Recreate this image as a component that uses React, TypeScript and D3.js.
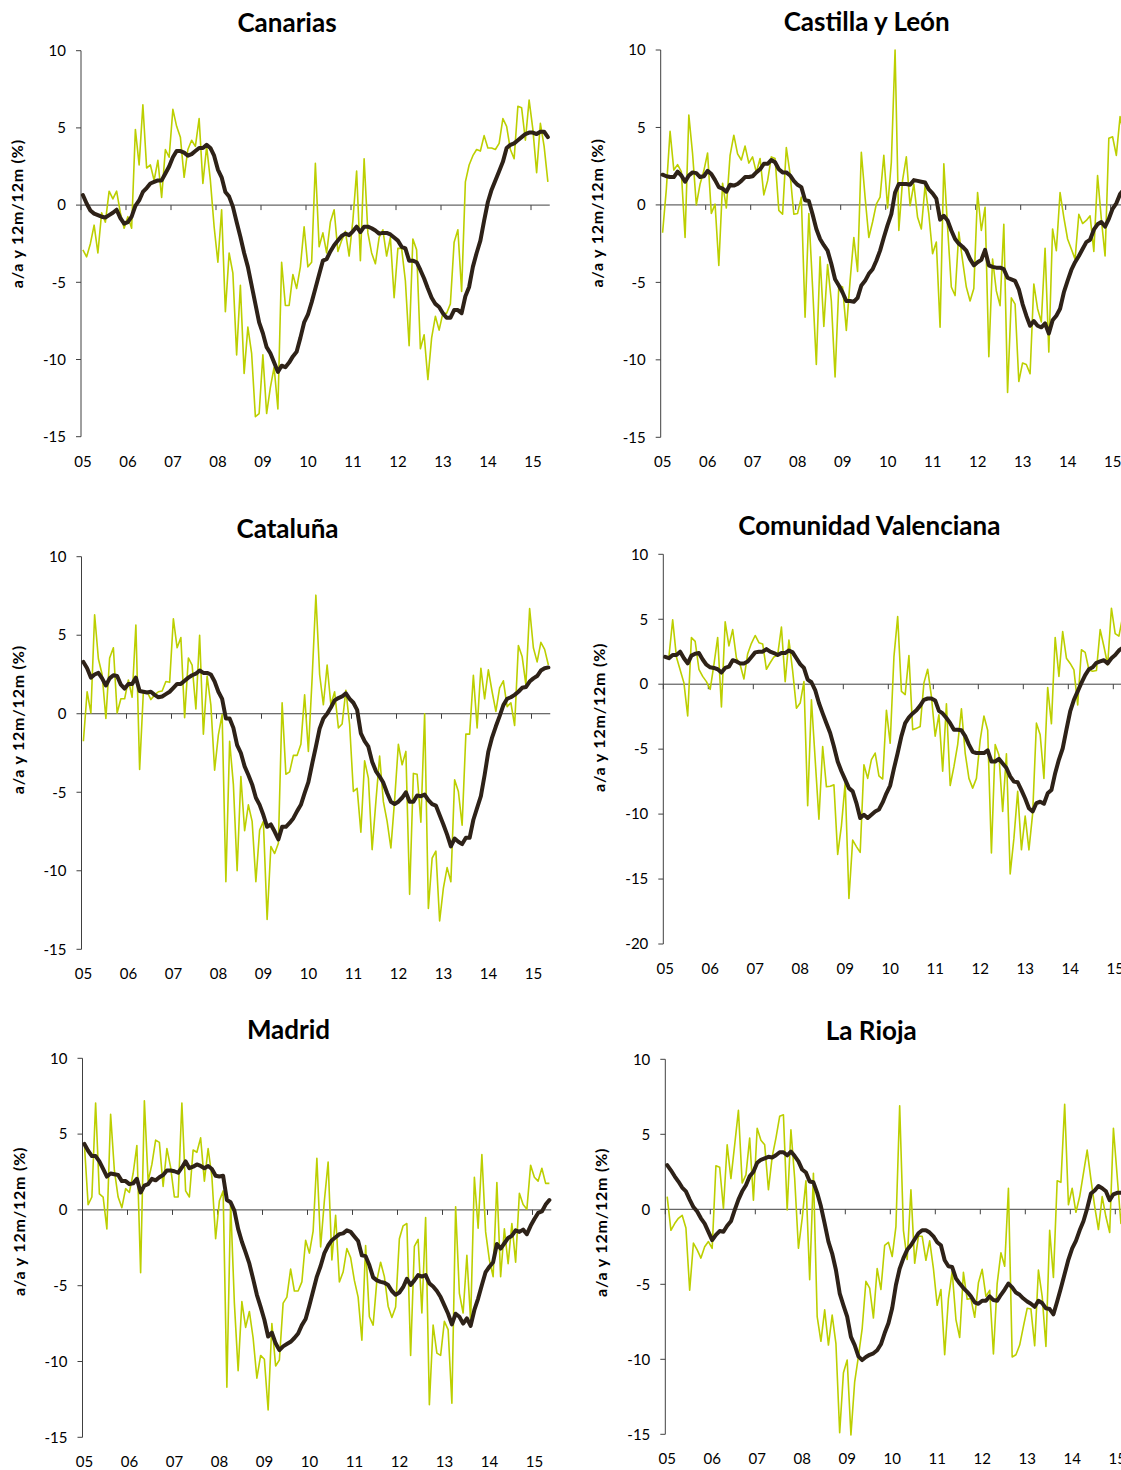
import React from 'react';
import * as d3 from 'd3';

const yearLabels = ['05', '06', '07', '08', '09', '10', '11', '12', '13', '14', '15'];

const canariasMonthly = [-2.9, -3.35, -2.5, -1.3, -3.1, -0.5, -1.1, 0.9, 0.4, 0.9, -0.5, -1.5, -0.75, -1.5, 4.9, 2.6, 6.5, 2.4, 2.6, 1.6, 2.9, 0.5, 3.6, 3.1, 6.2, 5.1, 4.4, 1.8, 3.6, 4.2, 3.8, 5.6, 1.4, 3.8, 1.6, -1.4, -3.7, -0.3, -6.9, -3.1, -4.4, -9.7, -5.2, -10.9, -7.9, -9.6, -13.7, -13.5, -9.7, -13.5, -11.8, -10.5, -13.2, -3.7, -6.5, -6.5, -4.5, -5.4, -4.0, -1.4, -4.0, -3.7, 2.7, -2.7, -1.8,
  -3.1, -1.1, -0.3, -3.0, -2.3, -1.7, -3.3, -1.0, 2.2, -3.6, 3.0, -1.8, -3.1, -3.8, -2.1, -1.6, -3.3, -2.1, -6.0, -2.8, -2.8, -4.9, -9.1, -2.2, -2.9, -9.3, -8.4, -11.3, -8.6, -7.2, -8.1, -7.0, -7.0, -6.4, -2.4, -1.6, -5.6, 1.5, 2.6, 3.2, 3.6, 3.5, 4.5, 3.7, 3.7, 3.6, 4.0, 5.6, 5.1, 3.6, 3.0, 6.4, 6.3, 4.2, 6.8, 4.9, 2.1, 5.3, 3.8, 1.5];
const canariasAvg = [0.65, 0.1, -0.35, -0.55, -0.65, -0.75, -0.8, -0.65, -0.5, -0.3, -0.85, -1.2, -1.1, -0.75, -0.05, 0.3, 0.85, 1.1, 1.4, 1.5, 1.6, 1.6, 2.05, 2.5, 3.1, 3.5, 3.5, 3.4, 3.2, 3.3, 3.5, 3.7, 3.7, 3.9, 3.7, 3.2, 2.3, 1.8, 0.85, 0.55, -0.1, -1.1, -2.05, -3.1, -4.0, -5.2, -6.4, -7.6, -8.3, -9.2, -9.6, -10.2, -10.8, -10.4, -10.5, -10.2, -9.8, -9.5, -8.6, -7.6,
  -7.1, -6.3, -5.4, -4.5, -3.6, -3.5, -3.0, -2.6, -2.3, -2.0, -1.85, -1.95, -1.7, -1.4, -1.75, -1.4, -1.4, -1.5, -1.65, -1.85, -1.8, -1.8, -1.9, -2.1, -2.3, -2.7, -2.8, -3.6, -3.6, -3.7, -4.2, -4.75, -5.4, -6.0, -6.4, -6.6, -7.0, -7.3, -7.3, -6.8, -6.8, -7.0, -5.9, -5.3, -4.0, -3.1, -2.3, -1.0, 0.2, 1.0, 1.6, 2.2, 2.8, 3.7, 3.9, 4.0, 4.2, 4.4, 4.6, 4.7, 4.7, 4.6, 4.75, 4.75, 4.4];

const castillaMonthly = [-1.8, 1.0, 4.75, 2.25, 2.6, 2.15, -2.1, 5.8, 3.3, 0.0, 1.35, 2.2, 3.35, -0.55, 0.05, -3.9, 1.4, -0.2, 3.2, 4.5, 3.3, 2.9, 3.8, 2.7, 3.1, 2.1, 3.0, 0.65, 1.55, 3.1, 3.0, -0.35, -0.6, 3.7, 2.0, -0.6, -0.55, 0.5, -7.25, -0.55, -5.3, -10.3, -3.35, -7.85, -3.85, -6.2, -11.1, -5.2, -5.3, -8.1, -4.9, -2.1, -4.3, 3.4, 0.5, -2.1, -1.1, 0.05, 0.5, 3.2, -0.2, 2.75,
  10.0, -1.65, 1.6, 3.1, -0.05, 1.35, -0.8, -1.55, 1.25, -0.6, -3.15, -2.4, -7.9, 2.65, -1.45, -5.3, -5.85, -1.75, -3.6, -5.3, -6.2, -5.4, 0.8, -1.65, -0.15, -9.8, -3.5, -5.55, -6.5, -1.25, -12.1, -6.0, -6.4, -11.4, -10.2, -10.3, -10.9, -5.1, -6.7, -7.55, -2.8, -9.5, -1.55, -2.95, 0.8, -0.8, -2.2, -2.85, -3.5, -0.6, -1.2, -1.0, -0.7, -3.0, 1.9, -0.9, -3.3, 4.3, 4.4, 3.2, 5.7, 4.5, 3.0];
const castillaAvg = [1.95, 1.85, 1.8, 1.8, 2.15, 1.9, 1.5, 1.9, 2.1, 2.05, 1.8, 1.85, 2.2, 2.0, 1.6, 1.15, 1.05, 0.85, 1.3, 1.25, 1.35, 1.55, 1.8, 1.8, 1.85, 2.1, 2.3, 2.65, 2.65, 2.9, 2.75, 2.3, 2.1, 2.1, 1.9, 1.55, 1.3, 1.15, 0.3, 0.25, -0.6, -1.55, -2.2, -2.6, -2.95, -3.8, -4.8, -5.2, -5.65, -6.2, -6.2, -6.25, -6.0, -5.2, -4.9, -4.45, -4.15, -3.6, -2.95, -2.1, -1.3, -0.6, 0.8,
  1.35, 1.35, 1.35, 1.3, 1.6, 1.55, 1.5, 1.45, 1.0, 0.75, 0.4, -0.95, -0.7, -1.0, -1.65, -2.2, -2.5, -2.7, -2.95, -3.5, -3.9, -3.7, -3.55, -2.9, -3.9, -4.0, -4.05, -4.05, -4.15, -4.7, -4.8, -4.9, -5.45, -6.4, -7.15, -7.8, -7.5, -7.8, -7.9, -7.65, -8.3, -7.45, -7.15, -6.7, -5.65, -4.9, -4.2, -3.7, -3.3, -2.85, -2.4, -2.25, -1.6, -1.25, -1.1, -1.4, -0.9, -0.25, 0.1, 0.7, 1.0, 1.3];

const catalunaMonthly = [-1.75, 1.4, 0.05, 6.3, 3.5, 2.5, -0.3, 3.55, 4.2, 0.05, 0.95, 0.95, 2.15, 1.05, 5.65, -3.55, 1.4, 1.4, 0.9, 1.2, 1.4, 1.45, 2.05, 2.0, 6.05, 4.2, 4.85, -0.25, 3.55, 3.1, 0.3, 5.0, -1.3, 2.4, 0.55, -3.6, -1.35, -0.05, -10.7, -1.75, -4.5, -10.0, -4.0, -7.45, -5.8, -6.85, -10.7, -7.4, -6.85, -13.1, -8.45, -8.9, -8.25, 0.7, -3.85, -3.7, -2.65, -2.65, -1.95, 1.2, -2.4, 2.27, 7.55, 2.5, 0.57,
  3.1, 0.57, 1.4, -0.9, -0.65, 1.5, -0.7, -4.95, -4.75, -7.55, -3.0, -4.1, -8.65, -5.6, -2.7, -5.6, -6.85, -8.55, -5.5, -1.95, -3.25, -2.4, -11.5, -3.8, -3.85, -6.9, 0.0, -12.4, -9.2, -8.75, -13.2, -11.1, -9.8, -10.7, -4.2, -4.95, -7.1, -1.3, -1.3, 2.45, -0.9, 2.9, 0.95, 2.8, 1.4, 0.15, 1.65, 2.1, 0.45, 0.7, -0.75, 4.35, 3.65, 1.85, 6.7, 4.2, 3.3, 4.55, 4.1, 3.1];
const catalunaAvg = [3.3, 2.9, 2.3, 2.5, 2.6, 2.25, 1.8, 2.25, 2.45, 2.4, 1.85, 1.6, 1.9, 1.9, 2.3, 1.45, 1.4, 1.35, 1.4, 1.2, 1.05, 1.1, 1.25, 1.4, 1.65, 1.9, 1.9, 2.1, 2.3, 2.45, 2.55, 2.75, 2.6, 2.6, 2.5, 2.05, 1.4, 0.95, -0.3, -0.3, -0.9, -2.0, -2.5, -3.35, -3.9, -4.5, -5.35, -5.8, -6.45, -7.2, -7.05, -7.5, -8.0, -7.2, -7.2, -6.95, -6.65, -6.2, -5.8,
  -5.05, -4.35, -3.2, -2.1, -0.95, -0.3, 0.0, 0.4, 0.85, 1.0, 1.1, 1.3, 0.95, 0.7, 0.25, -1.25, -1.75, -2.1, -3.05, -3.65, -4.0, -4.4, -5.05, -5.6, -5.75, -5.6, -5.35, -5.0, -5.6, -5.6, -5.2, -5.25, -5.15, -5.5, -5.75, -5.85, -6.45, -7.05, -7.7, -8.45, -7.95, -8.15, -8.3, -7.9, -7.9, -6.75, -6.0, -5.25, -3.9, -2.4, -1.5, -0.8, -0.15, 0.55, 0.95, 1.05, 1.2, 1.4, 1.65, 1.7, 2.05, 2.25, 2.4, 2.75, 2.9, 2.95];

const valencianaMonthly = [2.1, 2.1, 4.95, 2.1, 1.1, 0.1, -2.45, 3.6, 3.3, 1.15, 0.6, 0.2, -0.4, 1.5, 3.6, -1.75, 4.8, 2.95, 4.2, 2.0, 1.5, 0.4, 2.35, 3.15, 3.75, 3.2, 3.1, 1.15, 1.65, 2.1, 2.25, 4.4, 0.2, 3.4, 1.0, -1.85, -1.45, 0.2, -9.35, -1.2, -5.8, -10.4, -4.8, -7.9, -7.85, -7.75, -13.1, -10.9, -7.6, -16.5, -12.0, -12.5, -12.95, -6.2, -7.25, -5.8, -5.3, -7.05, -7.3, -2.0, -4.55, 2.1,
  5.2, -0.55, -0.8, 2.2, -3.5, -3.4, -3.25, 0.1, 1.15, -0.95, -4.0, -2.35, -6.7, -1.5, -7.8, -6.35, -4.65, -1.9, -5.3, -7.25, -8.0, -7.25, -4.3, -2.45, -3.55, -13.0, -4.65, -5.45, -9.8, -5.35, -14.6, -11.85, -8.25, -12.75, -10.15, -12.75, -9.95, -3.0, -3.9, -7.25, -0.25, -3.05, 3.6, 0.6, 4.05, 2.0, 1.6, 1.1, -1.6, 2.65, 2.45, 1.1, 1.0, 1.05, 4.2, 2.9, 1.5, 5.85, 3.9, 3.7, 5.2, 4.0, 4.5];
const valencianaAvg = [2.1, 2.0, 2.25, 2.25, 2.5, 2.0, 1.6, 2.2, 2.35, 2.4, 1.9, 1.5, 1.3, 1.25, 1.15, 0.9, 1.25, 1.35, 1.85, 1.75, 1.6, 1.6, 1.75, 2.1, 2.45, 2.5, 2.5, 2.7, 2.5, 2.4, 2.25, 2.4, 2.4, 2.6, 2.45, 2.0, 1.55, 1.25, 0.35, 0.15, -0.45, -1.45, -2.25, -3.0, -3.75, -4.8, -5.95, -6.7, -7.35, -8.0, -8.25, -9.15, -10.3, -10.05, -10.3, -10.05, -9.8, -9.65, -9.1,
  -8.4, -7.8, -6.5, -5.3, -4.0, -3.0, -2.55, -2.25, -2.0, -1.65, -1.2, -1.1, -1.1, -1.25, -2.05, -2.25, -2.6, -3.0, -3.5, -3.5, -3.55, -4.0, -4.65, -5.2, -5.3, -5.3, -5.3, -5.1, -5.95, -5.95, -5.75, -6.1, -6.45, -7.1, -7.5, -7.55, -8.15, -8.8, -9.55, -9.8, -9.15, -9.05, -9.2, -8.4, -8.15, -6.85, -5.8, -4.95, -3.5, -2.1, -1.2, -0.55, 0.1, 0.7, 1.15, 1.3, 1.65, 1.75, 1.85, 1.6, 2.0, 2.25, 2.6, 2.8, 3.0, 3.1];

const madridMonthly = [4.35, 0.35, 0.85, 7.05, 1.05, 0.85, -1.25, 6.3, 2.6, 0.85, 0.15, 1.4, 1.15, 2.4, 4.25, -4.15, 7.2, 1.9, 3.0, 4.6, 4.45, 1.55, 4.05, 2.8, 0.85, 0.85, 7.05, 1.25, 0.85, 3.95, 3.8, 4.75, 1.9, 4.05, 2.2, -1.9, 0.6, 1.25, -11.7, 0.5, -6.15, -10.6, -6.05, -7.75, -6.7, -8.45, -11.1, -9.6, -9.85, -13.2, -7.5, -10.3, -9.9, -6.15, -5.75, -3.9, -5.35, -5.35, -4.75, -2.0, -2.85, -1.4, 3.4, -2.45, 0.6,
  3.15, -3.3, -0.35, -4.75, -4.1, -2.55, -3.15, -4.65, -5.75, -8.6, -2.35, -7.05, -7.6, -4.65, -3.45, -4.4, -6.35, -7.1, -6.4, -1.9, -1.05, -0.9, -9.6, -2.4, -1.95, -6.8, -0.5, -12.85, -7.6, -9.45, -9.6, -7.35, -7.9, -12.75, 0.2, -5.5, -6.8, -3.0, -7.35, 2.15, -1.2, 3.65, -1.45, -3.3, -4.4, 1.8, -4.4, -1.25, -3.55, -0.9, -3.45, 1.1, 0.35, 0.05, 2.95, 2.15, 1.9, 2.75, 1.75, 1.75];
const madridAvg = [4.35, 3.9, 3.55, 3.55, 3.2, 2.7, 2.2, 2.4, 2.35, 2.3, 1.9, 1.9, 1.7, 1.75, 2.05, 1.15, 1.6, 1.7, 2.05, 1.95, 2.15, 2.3, 2.6, 2.6, 2.55, 2.45, 2.8, 3.2, 2.75, 2.85, 3.0, 2.9, 2.75, 2.9, 2.7, 2.25, 2.2, 2.25, 0.65, 0.5, -0.05, -1.25, -2.1, -2.8, -3.55, -4.55, -5.6, -6.4, -7.25, -8.35, -8.1, -8.8, -9.25, -9.0, -8.85, -8.7, -8.45, -8.15, -7.6,
  -7.2, -6.3, -5.35, -4.4, -3.7, -2.85, -2.35, -2.0, -1.8, -1.6, -1.55, -1.35, -1.45, -1.75, -2.05, -3.0, -3.05, -3.65, -4.45, -4.65, -4.75, -4.8, -4.95, -5.35, -5.6, -5.45, -5.1, -4.55, -4.95, -4.65, -4.3, -4.4, -4.3, -4.85, -5.05, -5.35, -5.75, -6.3, -6.85, -7.55, -6.85, -7.05, -7.5, -7.15, -7.65, -6.6, -5.85, -4.95, -4.1, -3.75, -3.45, -2.25, -2.55, -2.2, -1.85, -1.7, -1.35, -1.45, -1.3, -1.6, -1.05, -0.6, -0.2, -0.1, 0.35, 0.65];

const riojaMonthly = [0.85, -1.4, -0.95, -0.6, -0.4, -1.25, -5.4, -2.25, -2.7, -3.25, -2.5, -2.15, -2.6, 2.9, 2.8, 0.05, 4.3, 2.05, 4.3, 6.6, 1.75, 2.3, 4.75, 0.6, 5.4, 4.6, 4.3, 1.3, 3.5, 4.75, 6.2, 6.3, -0.05, 5.3, 2.05, -2.6, -0.6, 1.9, -4.7, 2.4, -7.15, -8.8, -6.7, -9.05, -7.05, -8.95, -14.9, -10.9, -10.05, -15.05, -11.5, -9.8, -7.95, -4.8, -5.25, -7.25, -3.95, -5.35, -2.4, -2.2, -3.15, -1.15,
  6.9, -1.4, -3.35, 1.3, -3.6, -1.8, -1.8, -3.4, -2.1, -3.95, -6.4, -5.35, -9.7, -5.95, -4.15, -7.35, -8.55, -4.2, -6.0, -5.95, -7.2, -4.9, -4.0, -5.8, -5.4, -9.65, -4.95, -2.9, -3.8, 1.4, -9.85, -9.7, -9.05, -7.8, -6.6, -6.65, -9.1, -4.05, -5.8, -9.15, -1.4, -4.55, 1.9, 1.8, 7.0, 0.3, 1.4, -0.2, 0.85, 2.4, 3.95, 2.0, 0.2, -1.35, 0.85, -0.5, -1.55, 5.4, 2.2, -0.95, 1.0, 2.0, 0.5];
const riojaAvg = [2.95, 2.6, 2.2, 1.85, 1.45, 1.2, 0.65, 0.15, -0.15, -0.6, -0.95, -1.5, -2.05, -1.7, -1.45, -1.5, -1.1, -0.8, -0.05, 0.65, 1.2, 1.6, 2.2, 2.5, 3.1, 3.3, 3.4, 3.5, 3.45, 3.6, 3.8, 3.8, 3.6, 3.85, 3.55, 3.2, 2.65, 2.45, 1.85, 1.8, 1.1, 0.2, -0.95, -2.15, -2.95, -4.05, -5.6, -6.4, -7.15, -8.5, -9.05, -9.8, -10.05, -9.85, -9.7, -9.6, -9.4, -9.0, -8.25, -7.6, -6.6, -5.05,
  -3.95, -3.25, -2.7, -2.4, -2.0, -1.6, -1.4, -1.4, -1.55, -1.8, -2.2, -2.4, -3.4, -3.8, -3.85, -4.6, -4.95, -5.25, -5.5, -5.8, -6.2, -6.3, -6.1, -6.1, -5.8, -6.05, -6.1, -5.7, -5.35, -4.95, -5.2, -5.55, -5.7, -5.95, -6.15, -6.3, -6.5, -6.1, -6.25, -6.6, -6.65, -7.0, -6.15, -5.25, -4.3, -3.35, -2.6, -2.1, -1.4, -0.8, 0.05, 1.05, 1.25, 1.55, 1.4, 1.2, 0.6, 1.0, 1.1, 1.1, 1.1, 1.0, 0.9];

const titles = ['Canarias', 'Castilla y León', 'Cataluña', 'Comunidad Valenciana', 'Madrid', 'La Rioja'];
const monthlySeries = [canariasMonthly, castillaMonthly, catalunaMonthly, valencianaMonthly, madridMonthly, riojaMonthly];
const avgSeries = [canariasAvg, castillaAvg, catalunaAvg, valencianaAvg, madridAvg, riojaAvg];
const yMins = [-15, -15, -15, -20, -15, -15];
const yMax = 10;
const yAxisTitle = 'a/a y 12m/12m (%)';

// layout (pixels)
const layout = [
  { x0: 81, top: 50.7, bottom: 436.7 },
  { x0: 660.7, top: 50, bottom: 437.3 },
  { x0: 81.5, top: 556.7, bottom: 949.3 },
  { x0: 663.3, top: 554.3, bottom: 944 },
  { x0: 82.5, top: 1058.3, bottom: 1437.3 },
  { x0: 665.3, top: 1059.3, bottom: 1434.3 },
];

const NCAT = 125;
const CAT_W = 3.75;
const FONT = 'Lato, "Open Sans", "DejaVu Sans", sans-serif';
const AXIS = '#404040';
const GREEN = '#bccf00';
const DARK = '#2e2218';

function Panel({ idx }: { idx: number }) {
  const L = layout[idx];
  const x = d3.scaleLinear().domain([0, NCAT]).range([L.x0, L.x0 + NCAT * CAT_W]);
  const y = d3.scaleLinear().domain([yMins[idx], yMax]).range([L.bottom, L.top]);
  const line = d3.line<number>().x((_, i) => x(i + 0.5)).y((d) => y(d));
  const yTicks = d3.range(yMins[idx], yMax + 0.001, 5);
  const y0 = y(0);
  return (
    <g>
      <text x={L.x0 + 206} y={L.top - 19} textAnchor="middle" fontFamily={FONT} fontWeight="bold" fontSize={26} fill="#000">
        {titles[idx]}
      </text>
      <text
        transform={`translate(${L.x0 - 58},${L.top + 163}) rotate(-90)`}
        textAnchor="middle"
        fontFamily={FONT}
        fontWeight="bold"
        fontSize={16}
        letterSpacing={0.8}
        fill="#000"
      >
        {yAxisTitle}
      </text>
      {/* y axis */}
      <line x1={L.x0} x2={L.x0} y1={L.top} y2={L.bottom} stroke={AXIS} strokeWidth={1} />
      {yTicks.map((t) => (
        <g key={t}>
          <line x1={L.x0 - 5} x2={L.x0} y1={y(t)} y2={y(t)} stroke={AXIS} strokeWidth={1} />
          <text x={L.x0 - 15} y={y(t)} dy="0.35em" textAnchor="end" fontFamily={FONT} fontSize={15} fill="#000">
            {t}
          </text>
        </g>
      ))}
      {/* x axis at zero */}
      <line x1={L.x0} x2={x(NCAT)} y1={y0} y2={y0} stroke={AXIS} strokeWidth={1} />
      {yearLabels.map((lab, k) => (
        <g key={lab}>
          <line x1={x(k * 12)} x2={x(k * 12)} y1={y0} y2={y0 + 5} stroke={AXIS} strokeWidth={1} />
          <text x={x(k * 12) + 2} y={L.bottom + 30} textAnchor="middle" fontFamily={FONT} fontSize={15} fill="#000">
            {lab}
          </text>
        </g>
      ))}
      <path d={line(monthlySeries[idx]) || ''} fill="none" stroke={GREEN} strokeWidth={1.6} strokeLinejoin="round" />
      <path d={line(avgSeries[idx]) || ''} fill="none" stroke={DARK} strokeWidth={4} strokeLinejoin="round" strokeLinecap="round" />
    </g>
  );
}

export default function App() {
  return (
    <svg
      width={1121}
      height={1470}
      viewBox="0 0 1121 1470"
      style={{ position: 'absolute', left: 0, top: 0, background: '#fff', display: 'block' }}
    >
      <rect x={0} y={0} width={1121} height={1470} fill="#fff" />
      {titles.map((_, i) => (
        <Panel key={i} idx={i} />
      ))}
    </svg>
  );
}
